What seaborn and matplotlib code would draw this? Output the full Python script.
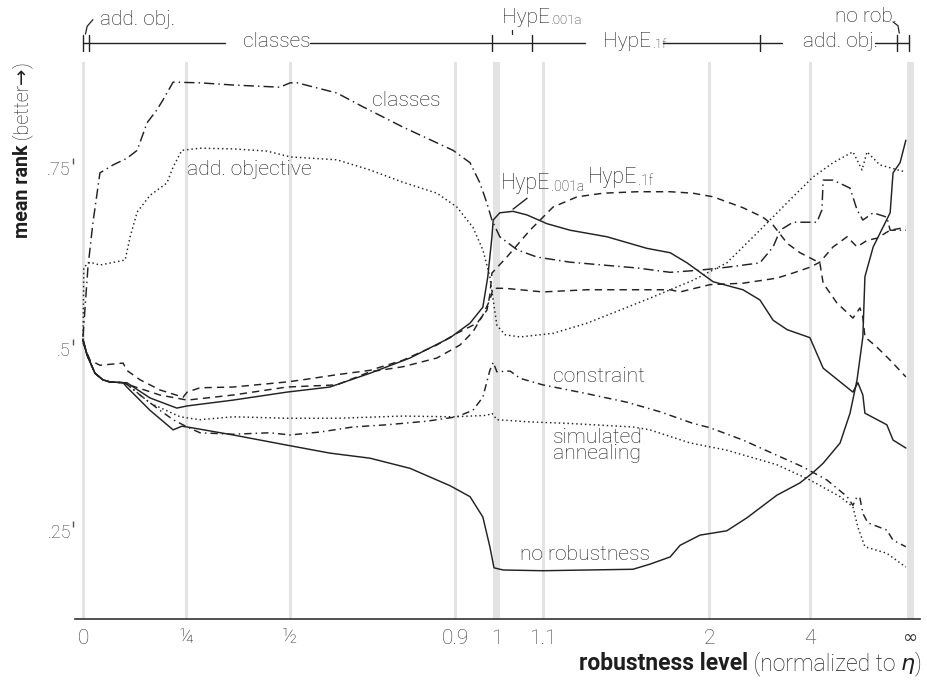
import numpy as np
import pandas as pd
import matplotlib
matplotlib.use("Agg")
import matplotlib.pyplot as plt
import seaborn as sns
from matplotlib.transforms import blended_transform_factory, IdentityTransform

# ---------------- data (x = position on the normalized robustness axis, y = mean rank)
x_no_rob = [0, 0.010, 0.029, 0.048, 0.065, 0.097, 0.106, 0.162, 0.218, 0.239, 0.252, 0.363, 0.493, 0.597,
            0.694, 0.791, 0.888, 0.936, 0.967, 0.984, 0.994, 1.016, 1.112, 1.330, 1.371, 1.420, 1.444, 1.492,
            1.557, 1.606, 1.678, 1.734, 1.765, 1.790, 1.831, 1.855, 1.872, 1.886, 1.891, 1.911, 1.952, 1.959,
            1.976, 1.99]
y_no_rob = [0.503, 0.482, 0.457, 0.448, 0.445, 0.444, 0.438, 0.406, 0.379, 0.384, 0.383, 0.372, 0.358, 0.347,
            0.340, 0.326, 0.302, 0.287, 0.259, 0.218, 0.189, 0.186, 0.185, 0.187, 0.194, 0.204, 0.220, 0.234,
            0.240, 0.258, 0.289, 0.306, 0.320, 0.333, 0.361, 0.402, 0.448, 0.507, 0.590, 0.631, 0.678, 0.733,
            0.747, 0.778]

x_hype001a = [0, 0.010, 0.029, 0.048, 0.065, 0.097, 0.106, 0.162, 0.227, 0.252, 0.363, 0.493, 0.597, 0.694,
              0.791, 0.888, 0.936, 0.967, 0.979, 0.989, 0.992, 1.008, 1.040, 1.074, 1.122, 1.178, 1.267, 1.364,
              1.420, 1.461, 1.524, 1.596, 1.637, 1.669, 1.703, 1.758, 1.790, 1.862, 1.874, 1.886, 1.891, 1.944,
              1.959, 1.99]
y_hype001a = [0.503, 0.482, 0.457, 0.448, 0.445, 0.444, 0.444, 0.423, 0.409, 0.412, 0.420, 0.431, 0.438, 0.457,
              0.478, 0.506, 0.526, 0.548, 0.590, 0.645, 0.668, 0.678, 0.680, 0.675, 0.663, 0.654, 0.645, 0.629,
              0.623, 0.609, 0.583, 0.572, 0.558, 0.530, 0.517, 0.506, 0.464, 0.431, 0.444, 0.427, 0.402, 0.386,
              0.365, 0.354]

x_hype1f = [0, 0.017, 0.041, 0.097, 0.106, 0.138, 0.186, 0.242, 0.252, 0.283, 0.363, 0.493, 0.532, 0.614,
            0.694, 0.774, 0.856, 0.904, 0.953, 0.977, 0.984, 0.989, 1.025, 1.081, 1.137, 1.195, 1.258, 1.340,
            1.420, 1.475, 1.524, 1.596, 1.644, 1.669, 1.703, 1.734, 1.782, 1.790, 1.823, 1.862, 1.879, 1.886,
            1.891, 1.920, 1.952, 1.99]
y_hype1f = [0.499, 0.475, 0.468, 0.471, 0.461, 0.448, 0.434, 0.424, 0.431, 0.437, 0.438, 0.445, 0.448, 0.455,
            0.461, 0.475, 0.496, 0.512, 0.526, 0.544, 0.565, 0.595, 0.617, 0.654, 0.686, 0.700, 0.705, 0.707,
            0.707, 0.705, 0.700, 0.685, 0.672, 0.661, 0.636, 0.623, 0.609, 0.581, 0.554, 0.533, 0.547, 0.534,
            0.507, 0.493, 0.475, 0.452]

x_other = [0, 0.010, 0.029, 0.048, 0.065, 0.097, 0.106, 0.186, 0.252, 0.363, 0.493, 0.614, 0.694, 0.774,
           0.856, 0.912, 0.943, 0.967, 0.984, 0.992, 1.021, 1.112, 1.219, 1.420, 1.444, 1.516, 1.596, 1.678,
           1.717, 1.758, 1.782, 1.814, 1.848, 1.872, 1.896, 1.920, 1.952, 1.99]
y_other = [0.503, 0.482, 0.457, 0.448, 0.445, 0.444, 0.442, 0.427, 0.420, 0.427, 0.438, 0.441, 0.459, 0.466,
           0.478, 0.496, 0.514, 0.537, 0.558, 0.574, 0.574, 0.569, 0.572, 0.572, 0.569, 0.579, 0.581, 0.588,
           0.595, 0.603, 0.610, 0.631, 0.645, 0.631, 0.640, 0.643, 0.654, 0.658]

x_classes = [0, 0.012, 0.024, 0.041, 0.073, 0.106, 0.131, 0.155, 0.179, 0.193, 0.218, 0.283, 0.363, 0.476,
             0.501, 0.518, 0.614, 0.677, 0.774, 0.895, 0.936, 0.960, 0.977, 0.989, 1.008, 1.050, 1.098, 1.178,
             1.258, 1.340, 1.420, 1.492, 1.557, 1.637, 1.669, 1.686, 1.717, 1.775, 1.787, 1.790, 1.814, 1.855,
             1.872, 1.886, 1.911, 1.944, 1.952, 1.99]
y_classes = [0.507, 0.603, 0.664, 0.733, 0.744, 0.753, 0.764, 0.802, 0.820, 0.833, 0.858, 0.857, 0.854, 0.851,
             0.857, 0.857, 0.843, 0.824, 0.796, 0.764, 0.747, 0.719, 0.691, 0.668, 0.645, 0.627, 0.617, 0.610,
             0.606, 0.602, 0.596, 0.599, 0.603, 0.609, 0.631, 0.654, 0.665, 0.665, 0.682, 0.723, 0.723, 0.712,
             0.682, 0.668, 0.678, 0.672, 0.654, 0.654]

x_addobj = [0, 0.002, 0.017, 0.041, 0.102, 0.114, 0.131, 0.162, 0.203, 0.218, 0.239, 0.283, 0.363, 0.445,
            0.501, 0.614, 0.694, 0.774, 0.856, 0.904, 0.943, 0.967, 0.984, 0.992, 1.001, 1.021, 1.057, 1.137,
            1.219, 1.299, 1.378, 1.420, 1.475, 1.557, 1.637, 1.717, 1.765, 1.814, 1.862, 1.884, 1.896, 1.927,
            1.99]
y_addobj = [0.503, 0.603, 0.610, 0.606, 0.613, 0.645, 0.679, 0.702, 0.719, 0.741, 0.764, 0.767, 0.766, 0.763,
            0.755, 0.751, 0.737, 0.720, 0.705, 0.686, 0.658, 0.627, 0.590, 0.558, 0.523, 0.510, 0.507, 0.512,
            0.526, 0.544, 0.562, 0.572, 0.585, 0.609, 0.654, 0.700, 0.727, 0.747, 0.762, 0.737, 0.762, 0.744,
            0.734]

x_constraint = [0, 0.010, 0.029, 0.048, 0.065, 0.097, 0.106, 0.138, 0.186, 0.218, 0.252, 0.283, 0.363, 0.452,
                0.501, 0.573, 0.653, 0.735, 0.832, 0.904, 0.943, 0.967, 0.984, 0.992, 1.001, 1.033, 1.057, 1.112,
                1.209, 1.316, 1.395, 1.475, 1.516, 1.596, 1.678, 1.741, 1.799, 1.848, 1.862, 1.872, 1.879, 1.886,
                1.898, 1.944, 1.959, 1.99]
y_constraint = [0.503, 0.482, 0.457, 0.448, 0.445, 0.444, 0.442, 0.427, 0.406, 0.393, 0.383, 0.375, 0.373, 0.375,
                0.372, 0.376, 0.383, 0.386, 0.391, 0.397, 0.406, 0.424, 0.461, 0.472, 0.459, 0.460, 0.450, 0.441,
                0.430, 0.417, 0.404, 0.388, 0.382, 0.365, 0.344, 0.328, 0.310, 0.287, 0.275, 0.287, 0.285, 0.264,
                0.251, 0.241, 0.227, 0.218]

x_simann = [0, 0.010, 0.029, 0.048, 0.065, 0.097, 0.106, 0.162, 0.235, 0.283, 0.363, 0.493, 0.614, 0.774,
            0.895, 0.977, 0.989, 1.001, 1.081, 1.171, 1.330, 1.371, 1.468, 1.557, 1.678, 1.758, 1.831, 1.862,
            1.874, 1.891, 1.944, 1.99]
y_simann = [0.503, 0.482, 0.457, 0.448, 0.445, 0.444, 0.442, 0.416, 0.397, 0.393, 0.397, 0.395, 0.395, 0.398,
            0.397, 0.399, 0.402, 0.393, 0.390, 0.388, 0.383, 0.379, 0.361, 0.351, 0.331, 0.310, 0.287, 0.273,
            0.245, 0.218, 0.209, 0.190]

# x-axis ticks (positions on the normalized axis) and their labels
tick_pos = [0, 0.25, 0.5, 0.9, 1.0, 1.112, 1.514, 1.758, 2.0]
tick_labels = ["0", "¼", "½", "0.9", "1", "1.1", "2", "4", "∞"]
thick_grid = [1.0, 2.0]
y_ticks = [0.25, 0.5, 0.75]
y_tick_labels = [".25", ".5", ".75"]

# best-method ranges shown in the bar above the plot
winner_bounds = [0.0, 0.0145, 0.989, 1.086, 1.637, 1.969, 1.998]

# ---------------- styling
sns.set_theme(style="white")
plt.rcParams["font.family"] = ["Roboto", "DejaVu Sans"]
plt.rcParams["font.weight"] = "light"
INK = "#222222"
TXT = "#1e1e1e"
GRID = "#e3e3e3"

series = {
    "no robustness": (x_no_rob, y_no_rob),
    "HypE.001a": (x_hype001a, y_hype001a),
    "HypE.1f": (x_hype1f, y_hype1f),
    "other": (x_other, y_other),
    "classes": (x_classes, y_classes),
    "add. objective": (x_addobj, y_addobj),
    "constraint": (x_constraint, y_constraint),
    "simulated annealing": (x_simann, y_simann),
}
dash_map = {
    "no robustness": "",
    "HypE.001a": "",
    "HypE.1f": (5, 3.5),
    "other": (5, 3.5),
    "classes": (7, 2.8, 1, 2.8),
    "add. objective": (1, 2),
    "constraint": (5, 2.8, 1, 2.8),
    "simulated annealing": (1, 2),
}

frames = []
for name, (xs, ys) in series.items():
    frames.append(pd.DataFrame({"pos": xs, "rank": ys, "method": name}))
df = pd.concat(frames, ignore_index=True)

W, H = 927, 680
fig = plt.figure(figsize=(W / 100, H / 100), dpi=100)
ax = fig.add_axes([75 / W, 61 / H, 845 / W, 557 / H])

for p in tick_pos:
    ax.axvline(p, color=GRID, lw=5.0 if p in thick_grid else 2.2, zorder=0)

sns.lineplot(data=df, x="pos", y="rank", style="method", dashes=dash_map, color=INK,
             estimator=None, sort=False, legend=False, lw=1.05, ax=ax)

ax.set_xlim(-0.0193, 2.0242)
ax.set_ylim(0.1185, 0.8857)
ax.set_xlabel("")
ax.set_ylabel("")
for s in ["left", "top", "right"]:
    ax.spines[s].set_visible(False)
ax.spines["bottom"].set_color("#333333")
ax.spines["bottom"].set_linewidth(1.2)

ax.set_xticks(tick_pos, tick_labels)
ax.tick_params(axis="x", length=0, pad=7, labelsize=15, labelcolor="#3a3a3a")
inf_label = ax.get_xticklabels()[-1]
inf_label.set_family(["DejaVu Sans"])
inf_label.set_fontweight("normal")
inf_label.set_fontsize(13)
ax.set_yticks(y_ticks, y_tick_labels)
ax.tick_params(axis="y", length=0, pad=3, labelsize=13, labelcolor="#3a3a3a")
for t in ax.yaxis.get_major_ticks():
    t.label1.set_va("top")
yt = blended_transform_factory(ax.transAxes, ax.transData)
for v in y_ticks:
    ax.plot([-0.002], [v], marker="|", ms=5, mew=1.0, color="#555555", transform=yt, clip_on=False)

# ---------------- in-plot labels
LAB = 15.2
ax.text(0.699, 0.833, "classes", fontsize=LAB, color=TXT, va="center", ha="left")
ax.text(0.2515, 0.737, "add. objective", fontsize=LAB, color=TXT, va="center", ha="left")
ax.text(1.137, 0.453, "constraint", fontsize=LAB, color=TXT, va="center", ha="left")
ax.text(1.137, 0.358, "simulated\nannealing", fontsize=LAB, color=TXT, va="center", ha="left",
        linespacing=0.8)
ax.text(1.057, 0.207, "no robustness", fontsize=LAB, color=TXT, va="center", ha="left")


def sub_label(x, y, main, sub, size, small, transform):
    t = ax.text(x, y, main, fontsize=size, color=TXT, va="center", ha="left", transform=transform,
                clip_on=False)
    ax.annotate(sub, xy=(1, 0), xycoords=t, xytext=(0.5, 0), textcoords="offset points",
                fontsize=small, color=TXT, va="bottom", ha="left", annotation_clip=False)
    return t


sub_label(1.011, 0.719, "HypE", ".001a", 15.5, 10, ax.transData)
sub_label(1.221, 0.726, "HypE", ".1f", 15.5, 10, ax.transData)
ax.plot([1.040, 1.074], [0.683, 0.698], color=INK, lw=1.0)

# ---------------- bar of best methods above the plot
bt = blended_transform_factory(ax.transData, ax.transAxes)
BAR_Y = 1.034
TH = 0.0145
BAR = 15
segments = [(winner_bounds[0], 0.343), (0.549, 1.214), (1.403, 1.690), (1.915, winner_bounds[-1])]
for a, b in segments:
    ax.plot([a, b], [BAR_Y, BAR_Y], color=INK, lw=1.0, transform=bt, clip_on=False)
for b in winner_bounds:
    ax.plot([b, b], [BAR_Y - TH, BAR_Y + TH], color=INK, lw=1.0, transform=bt, clip_on=False)
ax.text(0.041, 1.076, "add. obj.", fontsize=BAR, color=TXT, va="center", ha="left", transform=bt)
ax.plot([0.006, 0.010, 0.024], [1.050, 1.064, 1.076], color=INK, lw=0.9, transform=bt, clip_on=False)
ax.text(0.469, 1.037, "classes", fontsize=BAR, color=TXT, va="center", ha="center", transform=bt)
sub_label(1.013, 1.079, "HypE", ".001a", BAR, 9.5, bt)
ax.plot([1.037, 1.037], [1.050, 1.058], color=INK, lw=0.9, transform=bt, clip_on=False)
sub_label(1.258, 1.037, "HypE", ".1f", BAR, 9.5, bt)
ax.text(1.741, 1.036, "add. obj.", fontsize=BAR, color=TXT, va="center", ha="left", transform=bt)
ax.text(1.819, 1.081, "no rob.", fontsize=BAR, color=TXT, va="center", ha="left", transform=bt)
ax.plot([1.959, 1.971, 1.974], [1.072, 1.065, 1.052], color=INK, lw=0.9, transform=bt, clip_on=False)


# ---------------- axis titles made of several styled pieces
def place_parts(parts, x, y, rotation=0):
    """parts laid out along reading direction, ending at (x, y) in pixels (baseline)."""
    r = fig.canvas.get_renderer()
    arts, lens = [], []
    for s, kw in parts:
        t = fig.text(0, 0, s, transform=IdentityTransform(), rotation=rotation,
                     rotation_mode="anchor", ha="left", va="baseline", color=TXT, **kw)
        bb = t.get_window_extent(r)
        arts.append(t)
        lens.append(bb.height if rotation else bb.width)
    pos = (y if rotation else x) - sum(lens)
    for t, L in zip(arts, lens):
        t.set_position((x, pos) if rotation else (pos, y))
        pos += L


fig.canvas.draw()
place_parts([("robustness level", dict(fontsize=16.5, fontweight="bold")),
             (" (normalized to ", dict(fontsize=16.5)),
             ("η", dict(fontsize=16, fontstyle="italic", family="DejaVu Sans", fontweight="normal")),
             (")", dict(fontsize=16.5))], 922, 10)
place_parts([("mean rank", dict(fontsize=14.2, fontweight="bold")),
             (" (better", dict(fontsize=14.2)),
             ("→", dict(fontsize=14, family="DejaVu Sans", fontweight="normal")),
             (")", dict(fontsize=14.2))], 28, H - 62, rotation=90)

fig.savefig("out.png", dpi=100)
